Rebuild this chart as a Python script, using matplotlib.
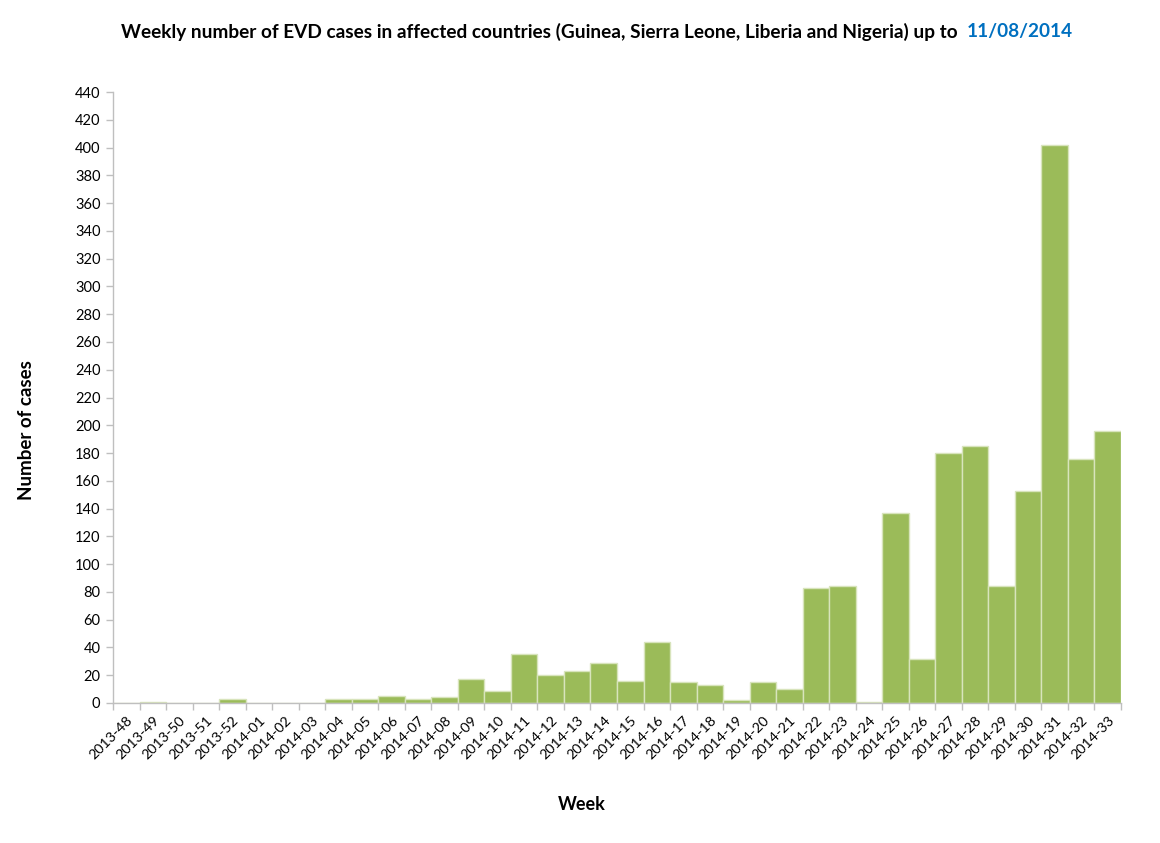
import matplotlib
matplotlib.use("Agg")
import matplotlib.pyplot as plt
import numpy as np

weeks = ["2013-48", "2013-49", "2013-50", "2013-51", "2013-52"] + [f"2014-{i:02d}" for i in range(1, 34)]
cases = [0, 1, 0, 0, 3, 0, 0, 0, 3, 3, 5, 3, 4, 17, 9, 35, 20, 23, 29, 16,
         44, 15, 13, 2, 15, 10, 83, 84, 0.6, 137, 32, 180, 185, 84, 153, 402, 176, 196]
yticks = list(range(0, 441, 20))

plt.rcParams['font.family'] = ['Lato', 'DejaVu Sans']

fig = plt.figure(figsize=(11.6, 8.43), dpi=100)
ax = fig.add_axes([113/1160, 1-703/843, (1121-113)/1160, (703-92)/843])

x = np.arange(len(weeks))
ax.bar(x, cases, width=1.0, color="#9BBB59", edgecolor="#D8E4BC", linewidth=1.0)

ax.set_xlim(-0.5, len(weeks) - 0.5)
ax.set_ylim(0, 440)
ax.set_yticks(yticks)
ax.set_yticklabels([str(v) for v in yticks], fontsize=10.5)
ax.set_xticks(x)
ax.set_xticklabels(weeks, rotation=45, ha='right', rotation_mode='anchor', fontsize=10.3)
ax.set_xticks(np.arange(-0.5, len(weeks)), minor=True)
ax.tick_params(axis='x', which='major', length=0, pad=8)
ax.tick_params(axis='x', which='minor', length=5, color='#BFBFBF', width=1)
ax.tick_params(axis='y', length=5, color='#BFBFBF', width=1, pad=4)

for s in ['top', 'right']:
    ax.spines[s].set_visible(False)
for s in ['left', 'bottom']:
    ax.spines[s].set_color('#BFBFBF')
    ax.spines[s].set_linewidth(1)

fig.text(27/1160, 1-430/843, "Number of cases", rotation=90, ha='center', va='center',
         fontsize=13.5, fontweight='bold')
fig.text(582/1160, 1-805/843, "Week", ha='center', va='center', fontsize=13, fontweight='bold')

# title in two parts
t1 = fig.text(0, 1-32/843, "Weekly number of EVD cases in affected countries (Guinea, Sierra Leone, Liberia and Nigeria) up to  ",
              ha='left', va='center', fontsize=13.7, fontweight='bold', color='black')
t2 = fig.text(0, 1-32/843, "11/08/2014", ha='left', va='center', fontsize=13.7, fontweight='bold', color='#0070C0')
fig.canvas.draw()
r = fig.canvas.get_renderer()
w1 = t1.get_window_extent(r).width
w2 = t2.get_window_extent(r).width
total = w1 + w2
start = (1071 + 123) / 2 - total / 2
t1.set_x(start / 1160)
t2.set_x((start + w1) / 1160)

fig.savefig("out.png", dpi=100)
